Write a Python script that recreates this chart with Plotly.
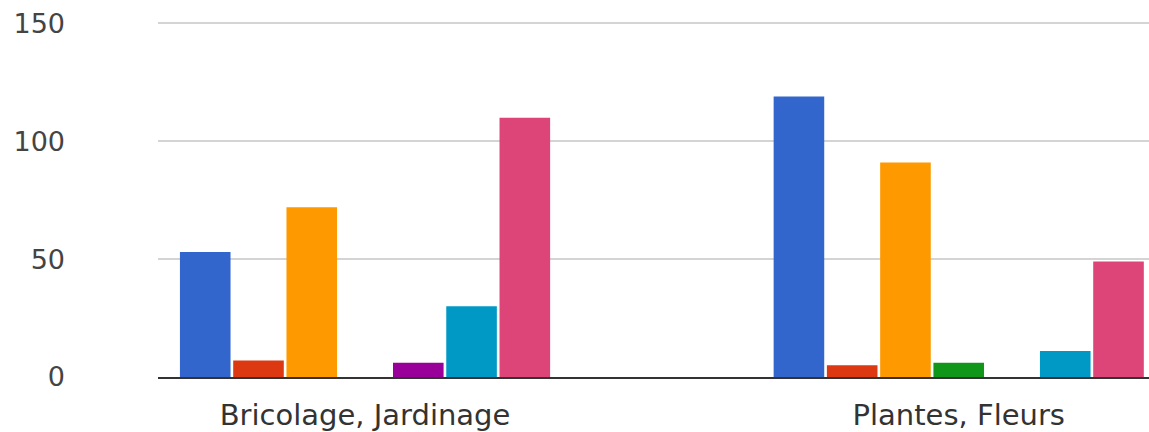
import plotly.graph_objects as go

categories = ["Bricolage, Jardinage", "Plantes, Fleurs"]
series_names = ["Série 1", "Série 2", "Série 3", "Série 4", "Série 5", "Série 6", "Série 7"]
series_values = [
    [53, 119],
    [7, 5],
    [72, 91],
    [0, 6],
    [6, 0],
    [30, 11],
    [110, 49],
]
colors = ["#3366cc", "#dc3912", "#ff9900", "#109618", "#990099", "#0099c6", "#dd4477"]
y_ticks = [0, 50, 100, 150]

fig = go.Figure()
for name, vals, col in zip(series_names, series_values, colors):
    fig.add_trace(go.Bar(
        x=categories, y=vals, name=name,
        marker=dict(color=col, line=dict(width=0)),
    ))

fig.update_layout(
    width=1149, height=432,
    margin=dict(l=158, r=0, t=21, b=55),
    paper_bgcolor="white", plot_bgcolor="white",
    barmode="group", bargap=0.372, bargroupgap=0.05,
    showlegend=False,
    font=dict(family="DejaVu Sans", color="#444"),
)
fig.update_xaxes(
    type="category", range=[-0.3487, 1.3205],
    showgrid=False, zeroline=False,
    showline=True, linecolor="#333", linewidth=2,
    ticks="", tickfont=dict(size=29, color="#333"),
    ticklabelstandoff=11,
)
fig.update_yaxes(
    range=[0, 151], tickvals=y_ticks,
    showgrid=True, gridcolor="#d4d4d4", gridwidth=2,
    zeroline=False, showline=False,
    ticks="", tickfont=dict(size=27, color="#444"),
    ticklabelstandoff=92, ticklabeloverflow="allow",
)

fig.write_html(
    "out.html",
    config={"displayModeBar": False},
    post_script="document.body.style.margin='0';document.body.style.overflow='hidden';",
)
